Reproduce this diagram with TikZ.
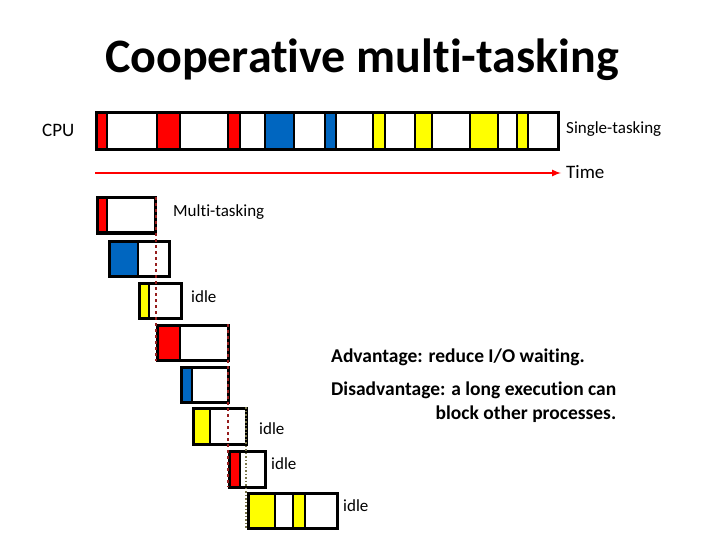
\documentclass[tikz,border=0pt]{standalone}
\usepackage{fontspec}
\setmainfont{Carlito}[Ligatures={NoCommon,NoDiscretionary,NoContextual}]
\begin{document}
\begin{tikzpicture}[x=1pt,y=-1pt,
  seg/.style={draw=black,line width=3pt},
  lbl/.style={anchor=west,inner sep=0pt,font=\fontsize{17}{20}\selectfont},
  blbl/.style={anchor=west,inner sep=0pt,font=\bfseries\fontsize{19.5}{24}\selectfont}]
\definecolor{myred}{RGB}{255,0,0}
\definecolor{myblue}{RGB}{0,102,192}
\definecolor{myyel}{RGB}{255,255,0}
\definecolor{dred}{RGB}{150,30,30}
\useasboundingbox (0,0) rectangle (720,540);
\node[font=\bfseries\fontsize{48}{56}\selectfont] (title) at (362,60) {Cooperative multi-tasking};
\node[lbl,font=\fontsize{19}{22}\selectfont] (cpu) at (42,130) {CPU};
% CPU bar
\foreach \a/\b/\c in {97/107/myred,107/157/white,157/180/myred,180/228/white,228/240/myred,240/265/white,265/294/myblue,294/325/white,325/336/myblue,336/373/white,373/385/myyel,385/415/white,415/432/myyel,432/470/white,470/498/myyel,498/517/white,517/528/myyel,528/557/white}
  \fill[\c] (\a,114) rectangle (\b,149);
\foreach \a in {107,157,180,228,240,265,294,325,336,373,385,415,432,470,498,517,528}
  \draw[line width=2.5pt] (\a,114) -- (\a,149);
\draw[seg] (96,113) rectangle (558,150);
\node[lbl] (st) at (566,129) {Single-tasking};
\coordinate (ta) at (95,173);
\coordinate (tb) at (561,173);
\draw[myred,line width=2pt,-latex] (ta) -- (tb);
\node[lbl,font=\fontsize{19}{22}\selectfont] (time) at (566,172) {Time};
% staircase
\newcommand{\tbox}[6]{% x1 x2 y1 y2 split color
  \fill[#6] (#1,#3) rectangle (#5,#4);
  \fill[white] (#5,#3) rectangle (#2,#4);
  \draw[line width=2.5pt] (#5,#3) -- (#5,#4);
  \draw[seg] (#1,#3) rectangle (#2,#4);}
\tbox{97}{155}{198}{233}{107}{myred}
\tbox{109}{169}{241}{276}{138}{myblue}
\tbox{139}{181}{283}{318}{149}{myyel}
\tbox{157}{228}{325}{360}{180}{myred}
\tbox{181}{228}{367}{402}{192}{myblue}
\tbox{193}{246}{408}{444}{210}{myyel}
\tbox{229}{265}{451}{487}{240}{myred}
\fill[myyel] (248,493) rectangle (275,528);
\fill[myyel] (293,493) rectangle (305,528);
\foreach \a in {275,293,305} \draw[line width=2.5pt] (\a,493) -- (\a,528);
\draw[seg] (248,493) rectangle (337,528);
\draw[dred,dashed,line width=1.5pt] (156,197) -- (156,361);
\draw[dred,dashed,line width=1.5pt] (228,324) -- (228,487);
\draw[black!60!yellow,dotted,line width=1.5pt] (246,407) -- (246,528);
\node[lbl] (mt) at (173,212) {Multi-tasking};
\node[lbl] (i1) at (191,297) {idle};
\node[lbl] (i2) at (259,429) {idle};
\node[lbl] (i3) at (271,464) {idle};
\node[lbl] (i4) at (343,506) {idle};
\node[blbl] (adv) at (331,357) {Advantage: reduce I/O waiting.};
\node[blbl,align=right,anchor=north west] (dis) at (331,382) {Disadvantage: a long execution can\\block other processes.};
\end{tikzpicture}
\end{document}
